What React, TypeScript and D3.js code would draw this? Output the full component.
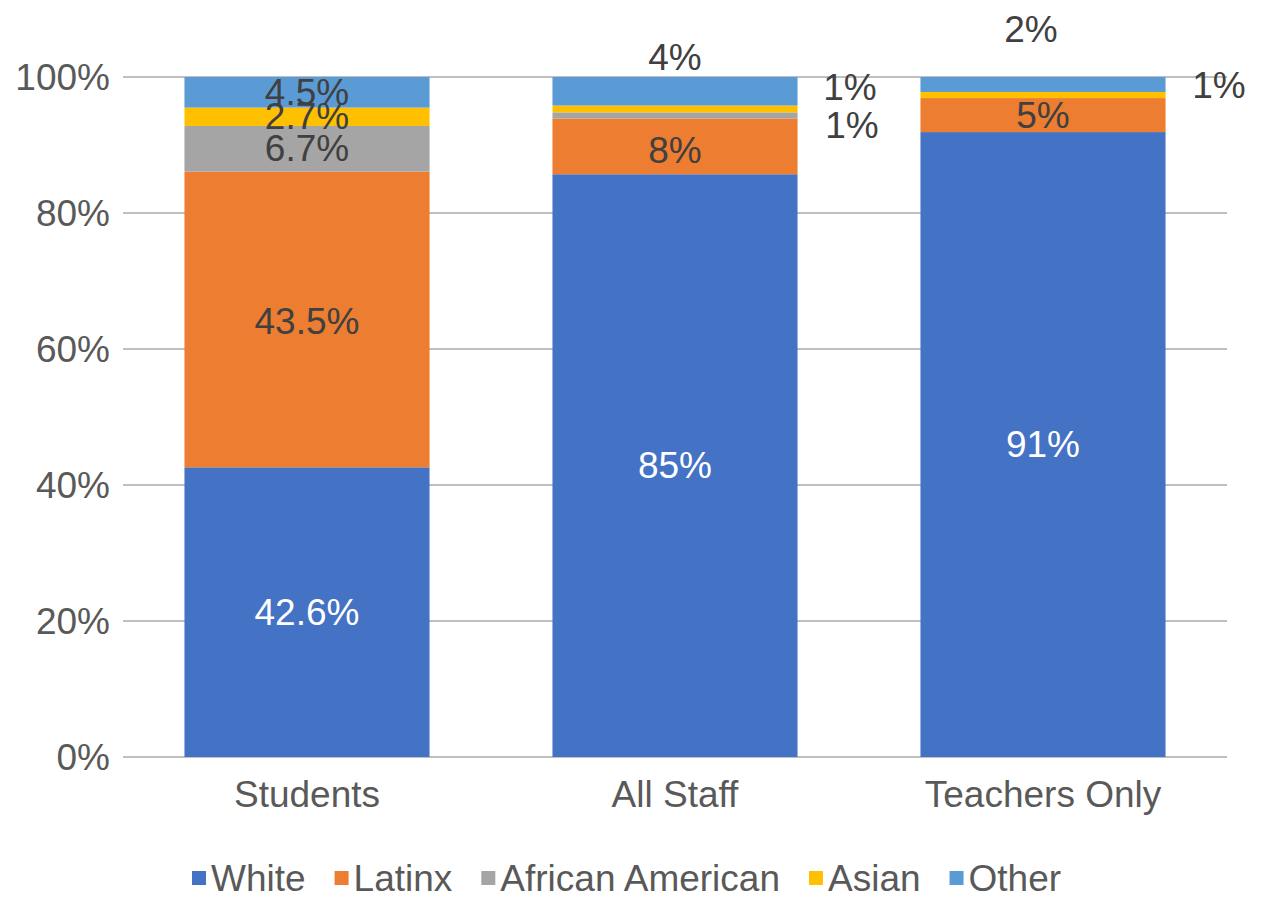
import React, { useEffect, useRef } from "react";
import * as d3 from "d3";

const categories = ["Students", "All Staff", "Teachers Only"];
const seriesNames = ["White", "Latinx", "African American", "Asian", "Other"];
const seriesColors = ["#4472C4", "#ED7D31", "#A5A5A5", "#FFC000", "#5B9BD5"];
const white = [42.6, 85.7, 91.9];
const latinx = [43.5, 8.2, 5.0];
const africanAmerican = [6.7, 0.9, 0];
const asian = [2.7, 1.0, 0.9];
const other = [4.5, 4.2, 2.2];
const whiteLabels = ["42.6%", "85%", "91%"];
const latinxLabels = ["43.5%", "8%", "5%"];
const aaLabels = ["6.7%", "1%", ""];
const asianLabels = ["2.7%", "1%", "1%"];
const otherLabels = ["4.5%", "4%", "2%"];
const yTicks = [0, 20, 40, 60, 80, 100];
const yTickLabels = ["0%", "20%", "40%", "60%", "80%", "100%"];

// label offsets (manually moved labels), [series][category] => [dx, dy]
const labelOffsets: [number, number][][] = [
  [[0, 0], [0, 0], [0, 0]],
  [[0, 2], [0, 4], [0, 0]],
  [[0, 0], [177, 10], [0, 0]],
  [[0, 0], [175, -21], [176, -10]],
  [[0, 0], [0, -34], [-12, -55]],
];

const W = 1266;
const H = 897;

export default function App() {
  const ref = useRef<SVGSVGElement>(null);
  useEffect(() => {
    const svg = d3.select(ref.current);
    svg.selectAll("*").remove();
    const values = [white, latinx, africanAmerican, asian, other];
    const labels = [whiteLabels, latinxLabels, aaLabels, asianLabels, otherLabels];
    const font = "'Liberation Sans', Arial, sans-serif";
    const fs = 37;

    const x = d3.scaleBand<string>().domain(categories).range([123, 1227]).paddingInner(0.334).paddingOuter(0.167);
    const y = d3.scaleLinear().domain([0, 100]).range([757, 77]);

    // gridlines
    svg.append("g").selectAll("line").data(yTicks).join("line")
      .attr("x1", 123).attr("x2", 1227)
      .attr("y1", d => y(d)).attr("y2", d => y(d))
      .attr("stroke", "#BFBFBF").attr("stroke-width", 2);

    svg.append("g").selectAll("text").data(yTicks).join("text")
      .attr("x", 110).attr("y", d => y(d))
      .attr("text-anchor", "end").attr("dominant-baseline", "central")
      .attr("font-family", font).attr("font-size", fs).attr("fill", "#595959")
      .text((d, i) => yTickLabels[i]);

    // stacked bars
    const rows = categories.map((c, ci) => {
      const r: any = { cat: c };
      seriesNames.forEach((s, si) => { r[s] = values[si][ci]; });
      return r;
    });
    const stacked = d3.stack<any>().keys(seriesNames)(rows);
    stacked.forEach((layer, si) => {
      svg.append("g").selectAll("rect").data(layer).join("rect")
        .attr("x", d => x(d.data.cat)!)
        .attr("width", x.bandwidth())
        .attr("y", d => y(d[1]))
        .attr("height", d => Math.max(0, y(d[0]) - y(d[1])))
        .attr("fill", seriesColors[si]);
    });

    // data labels
    stacked.forEach((layer, si) => {
      layer.forEach((d, ci) => {
        const t = labels[si][ci];
        if (!t) return;
        const [dx, dy] = labelOffsets[si][ci];
        svg.append("text")
          .attr("x", x(d.data.cat)! + x.bandwidth() / 2 + dx)
          .attr("y", (y(d[0]) + y(d[1])) / 2 + dy)
          .attr("text-anchor", "middle").attr("dominant-baseline", "central")
          .attr("font-family", font).attr("font-size", fs)
          .attr("fill", si === 0 ? "#FFFFFF" : "#404040")
          .text(t);
      });
    });

    // category labels
    svg.append("g").selectAll("text").data(categories).join("text")
      .attr("x", d => x(d)! + x.bandwidth() / 2).attr("y", 807)
      .attr("text-anchor", "middle")
      .attr("font-family", font).attr("font-size", fs).attr("fill", "#595959")
      .text(d => d);

    // legend
    const lg = svg.append("g");
    let cx = 0;
    seriesNames.forEach((s, si) => {
      const g = lg.append("g");
      g.append("rect").attr("x", cx).attr("y", 871).attr("width", 14).attr("height", 14).attr("fill", seriesColors[si]);
      const tx = g.append("text").attr("x", cx + 19).attr("y", 878)
        .attr("dominant-baseline", "central")
        .attr("font-family", font).attr("font-size", fs).attr("fill", "#595959").text(s);
      const tw = (tx.node() as SVGTextElement).getComputedTextLength();
      cx += 19 + tw + 29;
    });
    lg.attr("transform", `translate(192,0)`);
  }, []);
  return (
    <svg ref={ref} width={W} height={H} style={{ position: "absolute", left: 0, top: 0, background: "#fff" }} />
  );
}
